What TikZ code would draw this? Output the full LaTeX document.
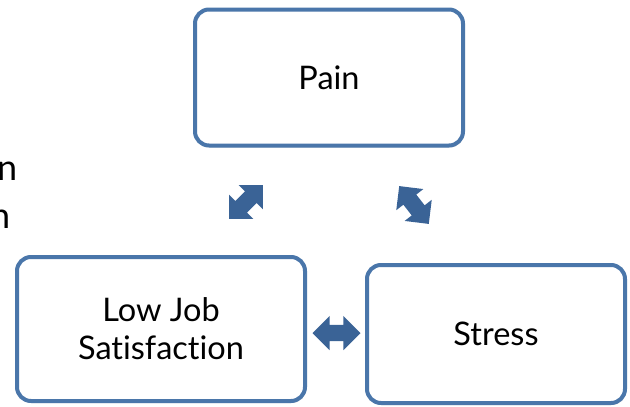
\documentclass[tikz,border=0pt]{standalone}
\usepackage{fontspec}
\setmainfont{Lato}[Ligatures={NoCommon}]
\usetikzlibrary{shapes.arrows,shadows}

\definecolor{boxblue}{HTML}{4A76AA}
\definecolor{arrowblue}{HTML}{3A6396}

\tikzset{
  box/.style={draw=boxblue, line width=4pt, rounded corners=14pt, fill=white,
    align=center, font=\fontsize{32.5}{38}\selectfont,
    drop shadow={opacity=0.25, shadow xshift=1pt, shadow yshift=-2pt}},
  biarrow/.style={double arrow, fill=arrowblue, draw=none, inner sep=8pt,
    minimum height=48pt, minimum width=34pt, double arrow head extend=9pt}
}

\begin{document}
\begin{tikzpicture}[x=1pt,y=-1pt]
\useasboundingbox (0,0) rectangle (630,407);

%cut off text at the left
			\node[anchor=base east, inner sep=0pt, font=\fontsize{36}{48}\selectfont] (restA) at (17.5,180) {n};
			\node[anchor=base east, inner sep=0pt, font=\fontsize{36}{48}\selectfont] (restB) at (10.5,228) {n};

%draw boxes
			\node[box, minimum width=268pt, minimum height=136pt] (pain) at (329,77.5) {Pain};
			\node[box, minimum width=288pt, minimum height=144pt] (lowjob) at (161,329) {Low Job\\Satisfaction};
			\node[box, minimum width=258pt, minimum height=138pt] (stress) at (496,334) {Stress};

%draw arrows
			\node[biarrow, rotate=45] (painlow) at (246,202) {};
			\node[biarrow, rotate=-52] (painstress) at (414,205) {};
			\node[biarrow] (lowstress) at (336.5,333) {};

\end{tikzpicture}
\end{document}
